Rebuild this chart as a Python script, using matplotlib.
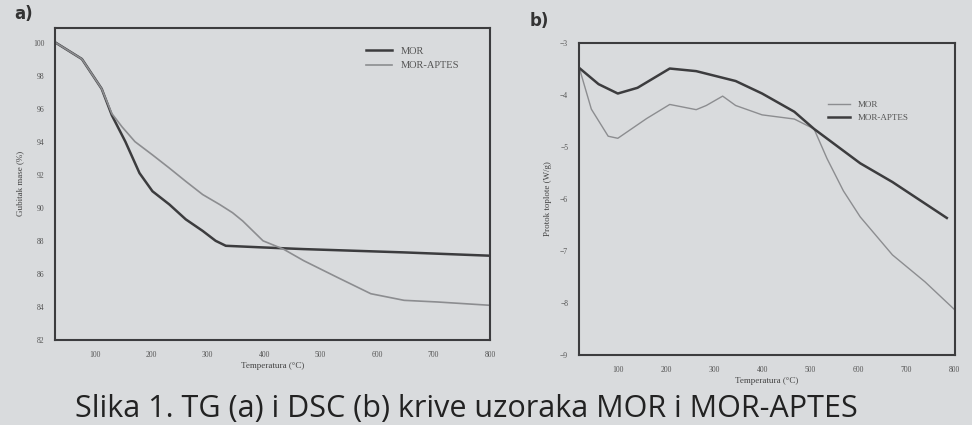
import numpy as np
import matplotlib.pyplot as plt

# TG podaci (a)
tg_temp_mor = [30, 77, 112, 130, 154, 179, 202, 232, 261, 291, 314, 332, 398, 470, 648, 800]
tg_mor = [100, 99.0, 97.2, 95.6, 94.0, 92.1, 91.0, 90.2, 89.3, 88.6, 88.0, 87.7, 87.6, 87.5, 87.3, 87.1]
tg_temp_aptes = [30, 77, 112, 130, 148, 171, 202, 232, 261, 291, 321, 344, 362, 398, 434, 470, 529, 589, 648, 707, 800]
tg_aptes = [100, 99.0, 97.2, 95.7, 94.9, 94.0, 93.2, 92.4, 91.6, 90.8, 90.2, 89.7, 89.2, 88.0, 87.5, 86.8, 85.8, 84.8, 84.4, 84.3, 84.1]

# DSC podaci (b)
dsc_temp_mor = [20, 45, 80, 100, 160, 208, 263, 284, 318, 345, 400, 467, 508, 535, 569, 604, 671, 739, 800]
dsc_mor = [-3.49, -4.28, -4.80, -4.84, -4.46, -4.19, -4.29, -4.21, -4.03, -4.21, -4.39, -4.47, -4.66, -5.23, -5.85, -6.35, -7.08, -7.60, -8.13]
dsc_temp_aptes = [20, 60, 100, 141, 208, 263, 345, 400, 467, 508, 604, 671, 784]
dsc_aptes = [-3.49, -3.80, -3.98, -3.87, -3.50, -3.55, -3.74, -3.98, -4.33, -4.66, -5.32, -5.68, -6.37]

x_ticks = [100, 200, 300, 400, 500, 600, 700, 800]
tg_yticks = [100, 98, 96, 94, 92, 90, 88, 86, 84, 82]
dsc_yticks = [-3, -4, -5, -6, -7, -8, -9]

bg = '#d9dbdd'
dark = '#3c3c3e'
light = '#8c8d90'
plt.rcParams['font.family'] = ['Liberation Serif', 'DejaVu Serif']

fig = plt.figure(figsize=(9.72, 4.25), dpi=100, facecolor=bg)

# Panel a)
ax1 = fig.add_axes([0.057, 0.20, 0.447, 0.735], facecolor=bg)
ax1.plot(tg_temp_mor, tg_mor, color=dark, lw=1.8, label='MOR')
ax1.plot(tg_temp_aptes, tg_aptes, color=light, lw=1.2, label='MOR-APTES')
ax1.set_xlim(30, 800)
ax1.set_ylim(82, 100.9)
ax1.set_xticks(x_ticks)
ax1.set_yticks(tg_yticks)
ax1.set_xlabel('Temperatura (°C)', fontsize=6.5, labelpad=2, color='#444444')
ax1.set_ylabel('Gubitak mase (%)', fontsize=6.5, labelpad=6, color='#444444')
ax1.legend(loc='upper right', bbox_to_anchor=(0.95, 0.97), frameon=False, fontsize=7.5,
           handlelength=2.5, labelcolor='#555555')

# Panel b)
ax2 = fig.add_axes([0.596, 0.165, 0.386, 0.735], facecolor=bg)
ax2.plot(dsc_temp_mor, dsc_mor, color=light, lw=1.0, label='MOR')
ax2.plot(dsc_temp_aptes, dsc_aptes, color=dark, lw=1.8, label='MOR-APTES')
ax2.set_xlim(20, 800)
ax2.set_ylim(-9, -3)
ax2.set_xticks(x_ticks)
ax2.set_yticks(dsc_yticks)
ax2.set_xlabel('Temperatura (°C)', fontsize=6.5, labelpad=2, color='#444444')
ax2.set_ylabel('Protok toplote (W/g)', fontsize=6.5, labelpad=6, color='#444444')
ax2.legend(loc='upper left', bbox_to_anchor=(0.64, 0.84), frameon=False, fontsize=6.5,
           handlelength=2.5, labelcolor='#555555')

for ax in (ax1, ax2):
    for s in ax.spines.values():
        s.set_color(dark)
        s.set_linewidth(1.5)
    ax.tick_params(length=0, labelsize=5.5, colors='#555555', pad=8)

fig.text(0.015, 0.955, 'a)', fontsize=12, fontweight='bold', family='DejaVu Sans', color='#333333')
fig.text(0.545, 0.94, 'b)', fontsize=12, fontweight='bold', family='DejaVu Sans', color='#333333')
fig.text(0.077, 0.018, 'Slika 1. TG (a) i DSC (b) krive uzoraka MOR i MOR-APTES',
         fontsize=22, family='Open Sans', color='#222222')

fig.savefig('out.png', dpi=100, facecolor=bg)
